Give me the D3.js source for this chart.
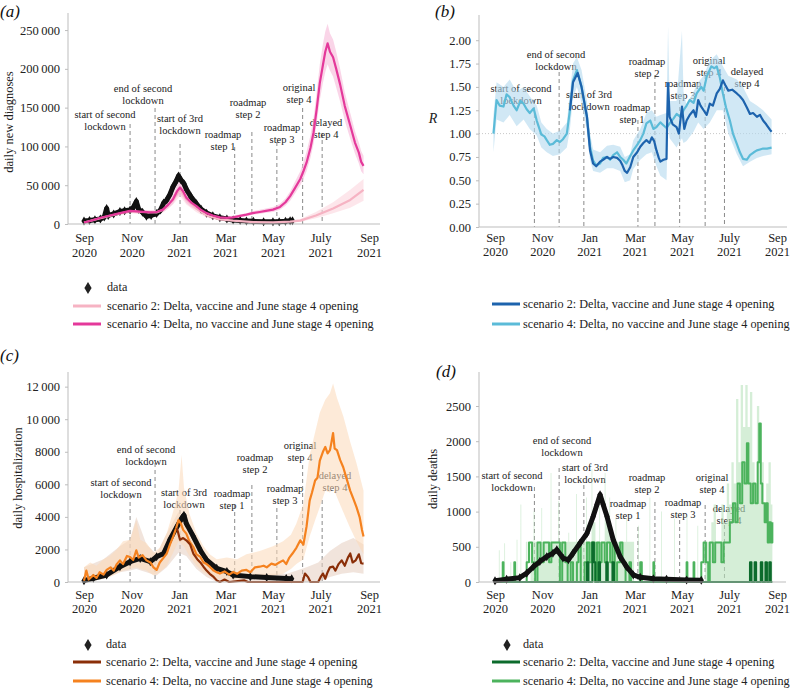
<!DOCTYPE html>
<html>
<head>
<meta charset="utf-8">
<script src="https://cdn.jsdelivr.net/npm/d3@7"></script>
<style>
body { margin: 0; background: #fff; }
svg { font-family: "Liberation Serif", "Times New Roman", serif; }
</style>
</head>
<body>
<div id="chart"></div>
<script>
// ---------- data ----------
// all series are [days since 1 Sep 2020, value(, lower, upper)]
var startDate = new Date(2020, 8, 1);
var endDate = new Date(2021, 8, 1);

var monthTicks = ["2020-09-01", "2020-11-01", "2021-01-01", "2021-03-01", "2021-05-01", "2021-07-01", "2021-09-01"];
var monthLabels = ["Sep", "Nov", "Jan", "Mar", "May", "July", "Sep"];
var yearLabels = ["2020", "2020", "2021", "2021", "2021", "2021", "2021"];

var eventNames = [
    ["start of second", "lockdown"], ["end of second", "lockdown"], ["start of 3rd", "lockdown"],
    ["roadmap", "step 1"], ["roadmap", "step 2"], ["roadmap", "step 3"],
    ["original", "step 4"], ["delayed", "step 4"]
];
var eventDays = [59, 91, 123, 193, 215, 247, 280, 305];

var legendNames = ["data", "scenario 2: Delta, vaccine and June stage 4 opening", "scenario 4: Delta, no vaccine and June stage 4 opening"];

// (a) daily new diagnoses
var dataA = [[0,3900],[7,4500],[14,5500],[21,6500],[26,9000],[29,20000],[31,11000],[38,13000],[46,16000],[52,17000],[59,18000],[63,21000],[67,29000],[70,19000],[75,15000],[80,10000],[86,11000],[93,13500],[98,18000],[102,27000],[106,31000],[110,38000],[114,48000],[118,55000],[121,62000],[124,57000],[128,52000],[131,45000],[137,35000],[144,26000],[150,19000],[157,14000],[165,10500],[174,8200],[183,6500],[191,5200],[200,4500],[208,4000],[217,3400],[230,3000],[242,3000],[250,2800],[258,3500],[264,4300],[267,4300]];
var scen2A = [[0,1900,900,2900],[20,7300,5500,9000],[46,13500,11500,16000],[59,16500,14000,19000],[72,15500,13000,18000],[93,15000,12500,17500],[101,18000,14500,21500],[114,31000,25000,37000],[123,45000,36000,53000],[131,32000,25000,40000],[144,20000,15000,25000],[157,11000,8500,13500],[174,6000,4500,7500],[191,4300,3000,5500],[217,2500,1500,3500],[242,2000,1200,3000],[264,3000,2000,4500],[277,4300,3000,6500],[297,11000,7500,15500],[319,20000,14000,28000],[341,31000,21000,44000],[358,44000,30000,58000]];
var scen4A = [[0,2000,1000,3000],[10,4500,3000,6000],[20,7700,6000,9500],[33,11000,9000,13500],[46,14000,12000,16500],[59,17000,14500,19500],[72,16000,13500,18500],[85,15000,12500,17500],[93,15500,13000,18000],[101,18500,15000,22000],[108,25000,20000,30000],[114,32000,26000,38000],[119,42000,35000,50000],[123,47000,38000,56000],[127,42000,34000,52000],[131,34000,27000,43000],[137,28000,22000,36000],[144,23000,18000,29000],[150,18000,14000,23000],[157,14000,11000,18000],[165,11000,8500,14000],[174,8600,7000,11000],[183,8000,6500,10000],[191,8500,7000,10500],[200,10500,9000,12500],[208,12000,10000,14000],[216,14000,12000,16500],[225,15500,13000,18500],[233,17000,14500,20000],[242,18500,15500,22000],[251,22000,18500,26000],[258,28000,23500,33000],[264,36000,30000,42000],[270,46000,39000,54000],[277,58000,50000,68000],[281,68000,58000,80000],[285,79000,68000,93000],[290,98000,85000,114000],[294,118000,103000,137000],[298,148000,130000,170000],[302,182000,160000,206000],[306,205000,182000,232000],[309,222000,196000,248000],[312,233000,206000,258000],[315,222000,198000,246000],[319,215000,190000,238000],[323,200000,176000,222000],[328,180000,158000,200000],[334,152000,133000,170000],[341,127000,110000,143000],[347,105000,91000,120000],[352,92000,78000,105000],[355,80000,68000,94000],[358,75000,64000,88000]];

// (b) R
var scen4B = [[-2,1.00],[2,1.36],[6,1.30],[11,1.29],[15,1.42],[19,1.39],[24,1.30],[28,1.25],[33,1.35],[37,1.32],[41,1.26],[45,1.22],[50,1.27],[54,1.14],[60,0.99],[64,0.97],[67,0.93],[71,0.88],[75,0.89],[80,0.93],[84,0.91],[88,0.94],[93,1.00],[97,1.25],[101,1.57],[106,1.68],[112,1.50],[119,1.18],[123,0.86],[127,0.71],[131,0.66],[136,0.68],[140,0.74],[145,0.75],[149,0.72],[153,0.77],[158,0.80],[162,0.75],[166,0.72],[170,0.68],[175,0.76],[179,0.82],[184,0.88],[188,0.93],[192,1.00],[196,1.11],[201,1.14],[205,1.05],[209,1.07],[214,1.12],[218,1.09],[222,1.06],[226,1.11],[231,1.16],[235,1.21],[240,1.18],[244,1.25],[248,1.30],[252,1.36],[257,1.33],[261,1.43],[267,1.50],[270,1.46],[274,1.61],[280,1.72],[284,1.70],[287,1.72],[291,1.60],[295,1.43],[299,1.28],[304,1.14],[308,1.00],[313,0.89],[317,0.80],[321,0.73],[326,0.72],[330,0.77],[335,0.80],[339,0.82],[343,0.83],[347,0.84],[352,0.84],[358,0.85]];
var scen2B = [[97,1.25],[101,1.55],[107,1.65],[112,1.50],[119,1.18],[123,0.82],[127,0.68],[131,0.65],[136,0.70],[140,0.72],[145,0.75],[149,0.73],[153,0.75],[158,0.74],[162,0.71],[165,0.66],[168,0.60],[171,0.58],[175,0.64],[179,0.75],[184,0.80],[188,0.86],[192,0.90],[196,0.93],[200,0.90],[203,0.96],[206,0.92],[209,0.82],[212,0.74],[214,0.70],[218,0.72],[222,0.73],[223,1.20],[224,1.54],[226,1.18],[230,1.10],[235,1.07],[238,1.00],[242,1.29],[245,1.05],[248,1.14],[252,1.20],[257,1.25],[260,1.18],[263,1.36],[266,1.30],[270,1.25],[274,1.20],[278,1.32],[282,1.30],[287,1.43],[291,1.48],[295,1.57],[298,1.52],[302,1.46],[307,1.47],[313,1.43],[317,1.40],[321,1.36],[326,1.28],[330,1.21],[334,1.22],[339,1.18],[343,1.20],[347,1.14],[351,1.10],[356,1.04],[358,1.02]];
var bandB = [[-2,0.80,1.20],[2,1.15,1.55],[11,1.12,1.50],[19,1.20,1.58],[28,1.08,1.45],[37,1.15,1.50],[45,1.05,1.40],[54,0.98,1.30],[60,0.85,1.12],[67,0.80,1.05],[75,0.76,1.00],[84,0.78,1.03],[93,0.85,1.12],[97,1.05,1.45],[101,1.38,1.75],[106,1.50,1.82],[112,1.33,1.68],[119,1.02,1.35],[123,0.72,1.00],[127,0.60,0.83],[136,0.58,0.80],[145,0.63,0.87],[153,0.63,0.88],[162,0.60,0.86],[168,0.48,0.75],[175,0.50,0.78],[179,0.62,0.93],[188,0.72,1.05],[196,0.78,1.22],[203,0.80,1.25],[209,0.65,1.18],[214,0.55,1.20],[222,0.50,1.22],[224,1.10,2.15],[226,0.95,1.35],[235,0.85,1.35],[242,0.95,2.10],[244,0.90,1.45],[248,0.92,1.30],[257,1.02,1.45],[263,1.12,1.55],[270,1.05,1.62],[278,1.12,1.78],[287,1.25,1.85],[295,1.25,1.72],[302,1.00,1.62],[313,0.78,1.58],[321,0.65,1.50],[330,0.70,1.35],[339,0.74,1.30],[347,0.76,1.25],[358,0.78,1.15]];

// (c) daily hospitalization
var dataC = [[0,80],[12,230],[29,430],[46,940],[59,1250],[72,1450],[85,1250],[93,1550],[102,1750],[110,2600],[119,3400],[125,3900],[128,4100],[131,3600],[140,2800],[149,1950],[157,1350],[170,840],[183,640],[191,430],[213,330],[234,270],[259,220],[266,200]];
var scen4C = [[0,80],[3,700],[6,150],[12,420],[16,250],[20,600],[25,450],[29,740],[34,900],[38,700],[42,1100],[46,1330],[50,1100],[55,1600],[59,1540],[63,1350],[67,1950],[70,1500],[75,1650],[80,1330],[85,1200],[89,900],[93,740],[97,1200],[102,1500],[106,1750],[110,2300],[114,2770],[118,3300],[121,3800],[124,3600],[127,3200],[131,2970],[135,2500],[140,2150],[144,1700],[149,1540],[153,1200],[157,1100],[161,940],[166,700],[170,600],[174,520],[180,650],[186,450],[191,615],[196,500],[202,700],[208,740],[213,600],[219,900],[225,940],[230,1000],[234,900],[240,1130],[245,1050],[250,1200],[255,1330],[259,1100],[263,1500],[267,1750],[272,2100],[277,2560],[281,2300],[285,3400],[289,5000],[292,5500],[296,6230],[299,6400],[302,7460],[306,8000],[309,8300],[312,7900],[315,8100],[317,8600],[319,9150],[321,8200],[324,8100],[328,7500],[332,7050],[336,6400],[341,5600],[345,5100],[349,4600],[353,3990],[356,3200],[358,2800]];
var scen2C = [[119,3300],[123,2600],[127,2700],[131,2560],[136,2300],[140,1750],[145,1400],[149,1200],[153,940],[157,700],[161,500],[166,310],[170,100],[174,0],[180,150],[186,0],[205,100],[210,0],[280,0],[283,520],[287,300],[290,0],[300,0],[303,300],[306,520],[309,200],[312,600],[315,900],[319,940],[322,700],[326,1100],[330,1330],[334,1000],[338,1500],[341,1750],[344,1200],[348,1330],[352,1700],[355,1150],[358,1130]];
var band4C = [[0,0,900],[8,0,1200],[16,100,1000],[25,200,1400],[33,300,1600],[42,500,2000],[50,700,2500],[59,800,2600],[67,900,3800],[72,800,2600],[80,700,2400],[89,400,1800],[97,600,2100],[106,1000,3000],[114,1800,4300],[121,2500,5600],[125,2300,7800],[128,2200,5800],[135,1600,4200],[144,1000,3000],[153,600,2200],[161,400,1700],[170,200,1400],[183,150,1500],[196,150,1400],[208,200,1700],[225,300,1900],[242,400,2200],[255,500,2500],[265,800,2900],[272,1100,3600],[281,1400,4800],[289,2800,7800],[296,3800,9200],[302,4600,10400],[309,5600,11200],[315,5500,11600],[319,5800,12200],[324,5200,11300],[332,4300,10200],[341,3300,8600],[349,2500,7300],[358,1700,5600]];
var band2C = [[0,0,900],[25,200,1400],[46,600,2200],[59,700,2600],[67,800,4000],[80,600,2300],[93,400,1700],[106,900,3000],[121,1800,4300],[131,1600,3600],[144,800,2300],[157,300,1400],[170,0,700],[200,0,500],[260,0,500],[285,0,900],[300,0,1200],[315,300,1900],[330,500,2400],[345,600,2700],[358,500,2300]];

// (d) daily deaths (stepped model output)
var dataD = [[0,19],[15,38],[32,62],[41,125],[50,220],[58,290],[67,360],[75,410],[80,457],[88,340],[95,315],[101,410],[110,550],[119,690],[127,930],[132,1100],[136,1240],[140,1100],[145,930],[153,600],[162,360],[170,220],[179,100],[188,66],[205,47],[222,38],[248,28],[267,25]];
var scen4D = [[0,0],[10,280],[11,0],[25,280],[26,0],[41,280],[44,560],[48,280],[52,0],[55,560],[59,280],[63,560],[70,280],[73,560],[84,0],[87,560],[91,280],[94,0],[98,280],[101,0],[106,280],[108,560],[111,0],[116,280],[119,560],[122,280],[125,560],[129,0],[132,560],[135,280],[138,560],[142,280],[145,560],[149,280],[152,560],[155,0],[158,280],[162,560],[165,280],[169,0],[174,280],[176,0],[188,280],[190,0],[205,280],[206,0],[248,280],[249,0],[257,280],[258,0],[267,280],[270,560],[273,280],[276,0],[278,560],[282,280],[285,560],[293,280],[296,560],[304,850],[308,1120],[311,850],[314,1400],[317,1120],[320,1700],[323,1400],[326,1970],[328,1400],[331,1120],[334,1400],[337,1120],[340,1700],[342,2250],[344,1400],[346,1120],[349,850],[351,1120],[353,560],[355,850],[357,560],[359,850]];
var scen2D = [[0,0],[119,280],[121,0],[126,560],[128,280],[130,0],[134,280],[136,0],[144,280],[146,0],[152,280],[154,0],[330,280],[332,0],[336,280],[338,0],[344,280],[346,0],[350,280],[352,0],[355,280],[357,0],[359,0]];
var bandD = [[0,0],[5,450],[6,0],[12,550],[13,0],[20,280],[21,0],[28,600],[29,0],[33,1100],[34,0],[40,570],[42,0],[46,570],[50,1000],[51,570],[60,1050],[61,570],[72,1550],[73,570],[82,1150],[83,570],[95,700],[96,570],[105,1250],[106,570],[118,1200],[119,570],[125,1600],[126,850],[130,570],[135,1100],[136,570],[142,1550],[143,850],[148,1200],[149,570],[156,900],[157,570],[170,900],[171,570],[180,0],[185,800],[186,0],[200,1200],[201,0],[215,1000],[216,0],[232,900],[233,0],[248,950],[249,0],[262,800],[263,0],[272,570],[280,850],[283,1100],[286,570],[293,1100],[296,850],[300,1400],[303,1100],[306,1700],[309,1400],[312,2600],[315,1700],[318,2800],[321,2200],[324,2800],[327,2200],[330,2700],[333,1700],[336,1400],[339,2500],[342,1400],[345,1700],[348,1100],[351,1400],[354,1700],[357,1100],[359,0]];

// ---------- drawing ----------
var svg = d3.select("#chart").append("svg")
    .attr("width", 797)
    .attr("height", 688)
    .style("background", "#fff");

var parse = d3.timeParse("%Y-%m-%d");
function day(d) { return d3.timeDay.offset(startDate, d); }

var thin = function (v) { return d3.format(",")(v).replace(/,/g, "\u2009"); };

var diamond = "M0,-6L3.6,0L0,6L-3.6,0Z";
var smallDiamond = "M0,-4.5L2.6,0L0,4.5L-2.6,0Z";

var panels = [
    {
        name: "(a)", nameX: 0, nameY: 17,
        x0: 84, x1: 369, axisX: 68, axisEnd: 380, yBot: 224, yTop: 13, yMax: 272000,
        ticks: [0, 50000, 100000, 150000, 200000, 250000], fmt: thin,
        mDy: 18, yDy: 33, title: "daily new diagnoses", titleX: 9, titleY: 122,
        shift: 0,
        labels: [[105,114,124],[143,88,108],[180,118,144],[223,134,147],[248,102,132],[282,127,142],[299,87,108],[326,122,133]],
        legendX: 73, textGap: 34, legendY: [287, 306, 324],
        order: ["band2", "band4", "data", "s2", "s4"],
        band2: scen2A, band4: scen4A, data: dataA, s2: scen2A, s4: scen4A,
        c2: "#f6b3c3", c4: "#e4389a", cb2: "#fbd6de", cb4: "#f7b9d8", bandOp: 0.6
    },
    {
        name: "(b)", nameX: 435, nameY: 17,
        x0: 495, x1: 777, axisX: 479, axisEnd: 787, yBot: 227, yTop: 15, yMax: 2.27,
        ticks: [0, 0.25, 0.5, 0.75, 1, 1.25, 1.5, 1.75, 2], fmt: d3.format(".2f"),
        mDy: 15, yDy: 29, title: null,
        shift: -8,
        labels: [[521,88,100],[556,54,72],[589,94,110],[632,107,120],[647,61,75],[683,83,100],[709,60,75],[747,71,87]],
        legendX: 492, textGap: 31, legendY: [null, 304, 324],
        order: ["bandB", "s4", "s2"],
        bandB: bandB, s2: scen2B, s4: scen4B,
        c2: "#1d63ad", c4: "#5bbbd8", cbB: "#b3d8ee", bandOp: 0.6
    },
    {
        name: "(c)", nameX: 0, nameY: 361,
        x0: 84, x1: 369, axisX: 68, axisEnd: 380, yBot: 582, yTop: 372, yMax: 12900,
        ticks: [0, 2000, 4000, 6000, 8000, 10000, 12000],
        fmt: function (v) { return v >= 10000 ? thin(v) : String(v); },
        mDy: 17, yDy: 31, title: "daily hospitalization", titleX: 18, titleY: 478,
        shift: 0,
        labels: [[121,482,495],[146,449,463],[184,492,510],[232,493,505],[255,457,485],[285,488,508],[300,445,465],[335,475,500]],
        legendX: 73, textGap: 33, legendY: [644, 662, 681],
        order: ["band2", "band4", "data", "s4", "s2"],
        band2: band2C, band4: band4C, data: dataC, s2: scen2C, s4: scen4C,
        c2: "#8a2e08", c4: "#f5821f", cb2: "#e6cdbf", cb4: "#fbd8b8", bandOp: 0.55
    },
    {
        name: "(d)", nameX: 436, nameY: 377,
        x0: 495, x1: 777, axisX: 479, axisEnd: 786, yBot: 582, yTop: 372, yMax: 2983,
        ticks: [0, 500, 1000, 1500, 2000, 2500], fmt: String,
        mDy: 17, yDy: 31, title: "daily deaths", titleX: 433, titleY: 479,
        shift: -8,
        labels: [[512,475,487],[562,440,468],[585,467,485],[628,503,527],[647,477,502],[683,502,520],[712,477,505],[729,508,525]],
        legendX: 492, textGap: 31, legendY: [644, 662, 681],
        order: ["bandD", "s4", "s2", "data"],
        bandD: bandD, data: dataD, s2: scen2D, s4: scen4D, step: true,
        c2: "#0c6b2c", c4: "#4cb35d", cbD: "#b9e2bd", bandOp: 0.6
    }
];

panels.forEach(function (p) {
    var g = svg.append("g");
    var x = d3.scaleTime().domain([startDate, endDate]).range([p.x0, p.x1]);
    var y = d3.scaleLinear().domain([0, p.yMax]).range([p.yBot, p.yTop]);
    var curve = p.step ? d3.curveStepAfter : d3.curveLinear;

    // event markers
    eventDays.forEach(function (ed, i) {
        var ex = x(day(ed + p.shift));
        var lp = p.labels[i];
        g.append("line")
            .attr("x1", ex).attr("x2", ex)
            .attr("y1", lp[2]).attr("y2", p.yBot)
            .attr("stroke", "#8a8a8a")
            .attr("stroke-width", 1)
            .attr("stroke-dasharray", "4,3");
        eventNames[i].forEach(function (t, j) {
            g.append("text")
                .attr("x", lp[0])
                .attr("y", lp[1] + j * 12.5)
                .attr("dy", "0.35em")
                .attr("text-anchor", "middle")
                .attr("font-size", 10.5)
                .attr("fill", "#222")
                .text(t);
        });
    });

    // R = 1 reference
    if (p.bandB) {
        g.append("line")
            .attr("x1", p.axisX).attr("x2", p.axisEnd)
            .attr("y1", y(1)).attr("y2", y(1))
            .attr("stroke", "#c8c8c8")
            .attr("stroke-dasharray", "1,2");
    }

    var plot = g.append("g");
    p.order.forEach(function (k) {
        if (k === "band2" || k === "band4" || k === "bandB") {
            var col = k === "band2" ? p.cb2 : (k === "band4" ? p.cb4 : p.cbB);
            var hasMid = p[k][0].length === 4;
            var area = d3.area()
                .x(function (d) { return x(day(d[0])); })
                .y0(function (d) { return y(hasMid ? d[2] : d[1]); })
                .y1(function (d) { return y(hasMid ? d[3] : d[2]); })
                .curve(curve);
            plot.append("path").datum(p[k])
                .attr("d", area)
                .attr("fill", col)
                .attr("opacity", p.bandOp);
        } else if (k === "bandD") {
            var areaD = d3.area()
                .x(function (d) { return x(day(d[0])); })
                .y0(y(0))
                .y1(function (d) { return y(d[1]); })
                .curve(d3.curveStepAfter);
            plot.append("path").datum(p[k])
                .attr("d", areaD)
                .attr("fill", p.cbD)
                .attr("opacity", p.bandOp);
        } else if (k === "data") {
            var dl = d3.line()
                .x(function (d) { return x(day(d[0])); })
                .y(function (d) { return y(d[1]); });
            plot.append("path").datum(p.data)
                .attr("d", dl)
                .attr("fill", "none")
                .attr("stroke", "#111")
                .attr("stroke-width", 5)
                .attr("stroke-linejoin", "round");
            plot.selectAll(null).data(p.data).enter()
                .append("path")
                .attr("d", smallDiamond)
                .attr("transform", function (d) { return "translate(" + x(day(d[0])) + "," + y(d[1]) + ")"; })
                .attr("fill", "#111");
        } else {
            var col2 = k === "s2" ? p.c2 : p.c4;
            var line = d3.line()
                .x(function (d) { return x(day(d[0])); })
                .y(function (d) { return y(d[1]); })
                .curve(curve);
            plot.append("path").datum(p[k])
                .attr("d", line)
                .attr("fill", "none")
                .attr("stroke", col2)
                .attr("stroke-width", p.step ? 2 : 2.2)
                .attr("stroke-linejoin", "round");
        }
    });

    // axes
    var axisCol = "#bdbdbd";
    g.append("line")
        .attr("x1", p.axisX).attr("x2", p.axisX)
        .attr("y1", p.yTop).attr("y2", p.yBot)
        .attr("stroke", axisCol);
    g.append("line")
        .attr("x1", p.axisX).attr("x2", p.axisEnd)
        .attr("y1", p.yBot).attr("y2", p.yBot)
        .attr("stroke", axisCol);

    var gy = g.append("g")
        .attr("transform", "translate(" + p.axisX + ",0)")
        .call(d3.axisLeft(y).tickValues(p.ticks).tickFormat(p.fmt).tickSize(3).tickPadding(5));
    gy.select(".domain").remove();
    gy.selectAll(".tick line").attr("stroke", axisCol);
    gy.selectAll(".tick text")
        .attr("font-family", "Liberation Serif, serif")
        .attr("font-size", 12.5)
        .attr("fill", "#222");

    var gx = g.append("g")
        .attr("transform", "translate(0," + p.yBot + ")")
        .call(d3.axisBottom(x).tickValues(monthTicks.map(parse)).tickSize(0));
    gx.select(".domain").remove();
    gx.selectAll(".tick text")
        .attr("font-family", "Liberation Serif, serif")
        .attr("font-size", 12.5)
        .attr("fill", "#222")
        .attr("dy", null)
        .each(function (d, i) {
            var t = d3.select(this).text(null);
            t.append("tspan").attr("x", 0).attr("y", p.mDy).text(monthLabels[i]);
            t.append("tspan").attr("x", 0).attr("y", p.yDy).text(yearLabels[i]);
        });

    // titles
    g.append("text")
        .attr("x", p.nameX).attr("y", p.nameY)
        .attr("font-size", 17)
        .attr("font-style", "italic")
        .attr("fill", "#111")
        .text(p.name);

    if (p.title) {
        g.append("text")
            .attr("transform", "translate(" + p.titleX + "," + p.titleY + ") rotate(-90)")
            .attr("text-anchor", "middle")
            .attr("dy", "0.35em")
            .attr("font-size", 12.5)
            .attr("fill", "#222")
            .text(p.title);
    } else {
        g.append("text")
            .attr("x", 433).attr("y", 118)
            .attr("dy", "0.35em")
            .attr("text-anchor", "middle")
            .attr("font-size", 14)
            .attr("font-style", "italic")
            .attr("fill", "#222")
            .text("R");
    }

    // legend
    var lg = g.append("g");
    legendNames.forEach(function (name, i) {
        var ly = p.legendY[i];
        if (ly === null) return;
        if (i === 0) {
            lg.append("path")
                .attr("d", diamond)
                .attr("transform", "translate(" + (p.legendX + 15) + "," + (ly + 1) + ")")
                .attr("fill", "#222");
        } else {
            lg.append("line")
                .attr("x1", p.legendX).attr("x2", p.legendX + 28)
                .attr("y1", ly).attr("y2", ly)
                .attr("stroke", i === 1 ? p.c2 : p.c4)
                .attr("stroke-width", 3);
        }
        lg.append("text")
            .attr("x", p.legendX + p.textGap)
            .attr("y", ly)
            .attr("dy", "0.35em")
            .attr("font-size", 12.2)
            .attr("fill", "#222")
            .text(name);
    });
});
</script>
</body>
</html>
